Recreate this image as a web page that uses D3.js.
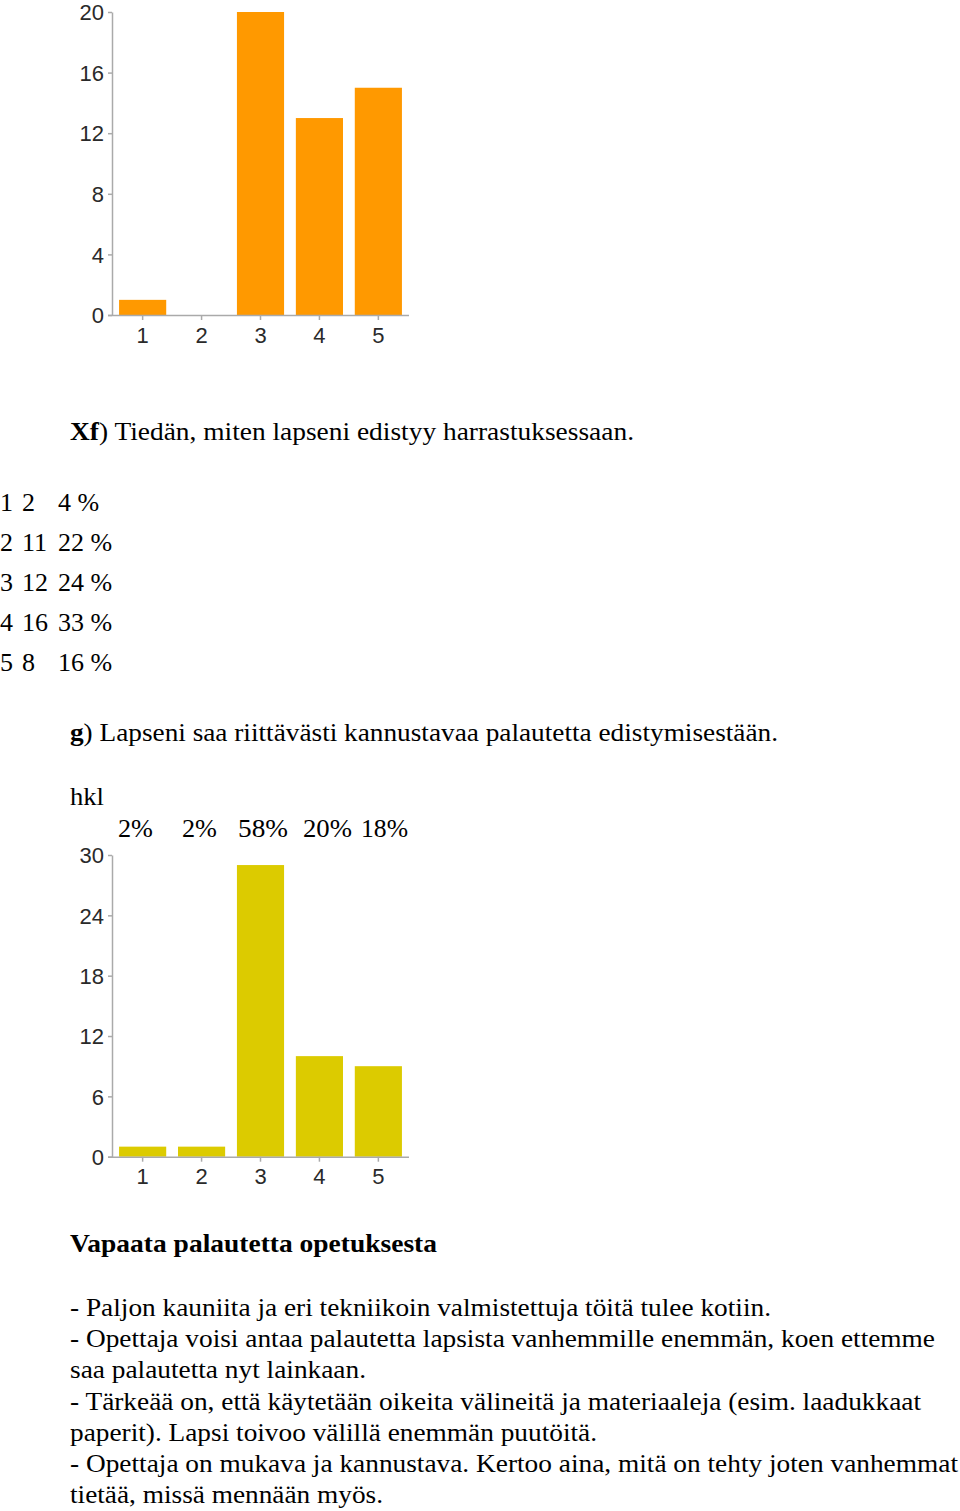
<!DOCTYPE html>
<html>
<head>
<meta charset="utf-8">
<script src="https://cdn.jsdelivr.net/npm/d3@7"></script>
<style>
  html, body { margin: 0; padding: 0; background: #fff; }
  svg { display: block; }
  .serif { font-family: "Liberation Serif", "Times New Roman", serif; fill: #000; }
  .axis text { font-family: "Liberation Sans", Arial, Helvetica, sans-serif; fill: #2a2a2a; }
</style>
</head>
<body>
<svg id="page" width="960" height="1511"></svg>
<script>
// ---------- data ----------
const categories = ["1", "2", "3", "4", "5"];
const valuesPrevious = [1, 0, 20, 13, 15];      // chart at top (end of question e)
const valuesG = [1, 1, 29, 10, 9];              // question g
const yTicksPrevious = [0, 4, 8, 12, 16, 20];
const yTicksG = [0, 6, 12, 18, 24, 30];
const percentsG = ["2%", "2%", "58%", "20%", "18%"];
const tableF = [
  ["1", "2", "4 %"],
  ["2", "11", "22 %"],
  ["3", "12", "24 %"],
  ["4", "16", "33 %"],
  ["5", "8", "16 %"]
];
const feedbackLines = [
  "- Paljon kauniita ja eri tekniikoin valmistettuja töitä tulee kotiin.",
  "- Opettaja voisi antaa palautetta lapsista vanhemmille enemmän, koen ettemme",
  "saa palautetta nyt lainkaan.",
  "- Tärkeää on, että käytetään oikeita välineitä ja materiaaleja (esim. laadukkaat",
  "paperit). Lapsi toivoo välillä enemmän puutöitä.",
  "- Opettaja on mukava ja kannustava. Kertoo aina, mitä on tehty joten vanhemmat",
  "tietää, missä mennään myös."
];

// ---------- layout ----------
const svg = d3.select("#page");
const axisColor = "#aaaaaa";

function barChart(values, ticks, yTop, yZero, color) {
  const x = d3.scaleBand().domain(categories).range([112, 409])
    .paddingInner(0.2).paddingOuter(0.12);
  const y = d3.scaleLinear().domain([0, ticks[ticks.length - 1]]).range([yZero, yTop]);
  const g = svg.append("g");

  g.selectAll("rect").data(values).join("rect")
    .attr("x", (d, i) => x(categories[i]))
    .attr("width", x.bandwidth())
    .attr("y", d => y(d))
    .attr("height", d => yZero - y(d))
    .attr("fill", color);

  const yAxis = g.append("g").attr("class", "axis")
    .attr("transform", "translate(112,0)")
    .call(d3.axisLeft(y).tickValues(ticks).tickSize(4).tickSizeOuter(0).tickPadding(4));
  yAxis.selectAll("text").attr("font-size", 22).attr("dy", "0.35em");

  const xAxis = g.append("g").attr("class", "axis")
    .attr("transform", `translate(0,${yZero})`)
    .call(d3.axisBottom(x).tickSize(5).tickSizeOuter(0).tickPadding(7));
  xAxis.selectAll("text").attr("font-size", 22);
  xAxis.select(".domain").attr("d", `M108,0.5H409`);

  [yAxis, xAxis].forEach(a => {
    a.selectAll(".domain").attr("stroke", axisColor).attr("stroke-width", 1.5);
    a.selectAll(".tick line").attr("stroke", axisColor).attr("stroke-width", 1.5);
  });
}

barChart(valuesPrevious, yTicksPrevious, 12, 315, "#ff9900");
barChart(valuesG, yTicksG, 855, 1156.7, "#dccb00");

// ---------- texts ----------
function line(txt, x, y, size, width, bold) {
  const t = svg.append("text").attr("class", "serif")
    .attr("x", x).attr("y", y).attr("font-size", size);
  if (bold) t.attr("font-weight", "bold");
  t.text(txt);
  if (width) t.attr("textLength", width).attr("lengthAdjust", "spacingAndGlyphs");
  return t;
}

// f) heading
const tf = svg.append("text").attr("class", "serif").attr("x", 70).attr("y", 440)
  .attr("font-size", 26).attr("textLength", 564).attr("lengthAdjust", "spacingAndGlyphs");
tf.append("tspan").attr("font-weight", "bold").text("Xf");
tf.append("tspan").text(") Tiedän, miten lapseni edistyy harrastuksessaan.");

// table rows for f)
const colX = [0, 22, 58];
tableF.forEach((row, r) => {
  row.forEach((cell, c) => {
    line(cell, colX[c], 511 + r * 40, 26, null, false);
  });
});

// g) heading
const tg = svg.append("text").attr("class", "serif").attr("x", 70).attr("y", 741)
  .attr("font-size", 26).attr("textLength", 708).attr("lengthAdjust", "spacingAndGlyphs");
tg.append("tspan").attr("font-weight", "bold").text("g");
tg.append("tspan").text(") Lapseni saa riittävästi kannustavaa palautetta edistymisestään.");

line("hkl", 70, 805, 26, 34, false);
const pctX = [118, 182, 238, 303, 361];
const pctW = [35, 35, 50, 49, 47];
percentsG.forEach((p, i) => line(p, pctX[i], 837, 26, pctW[i], false));

// free feedback
line("Vapaata palautetta opetuksesta", 70, 1252, 26, 367, true);
const lineWidths = [701, 865, 296, 851, 527, 888, 313];
feedbackLines.forEach((l, i) => line(l, 70, 1316 + i * 31.2, 26, lineWidths[i], false));
</script>
</body>
</html>
